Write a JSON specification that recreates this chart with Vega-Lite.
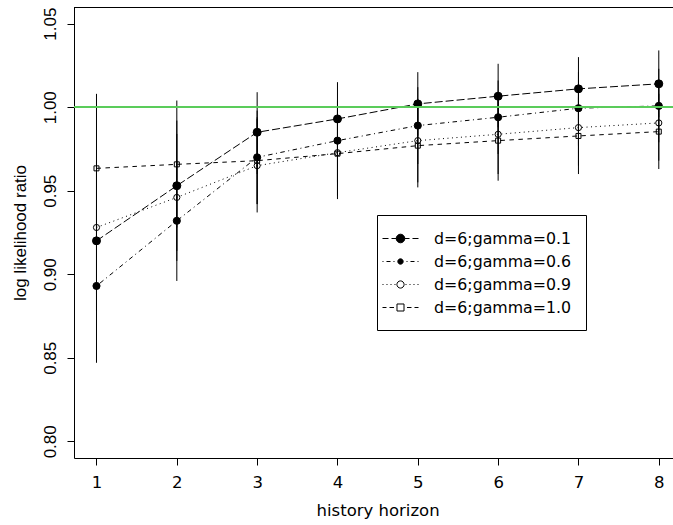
{
  "$schema": "https://vega.github.io/schema/vega-lite/v6.json",
  "autosize": "none",
  "padding": {"left": 74, "top": 7, "right": 0, "bottom": 67},
  "width": 599,
  "height": 451,
  "background": "white",
  "config": {
    "view": {"stroke": null},
    "font": "DejaVu Sans",
    "axis": {"grid": false, "domainColor": "black", "tickColor": "black", "labelColor": "black", "titleColor": "black", "tickSize": 7, "domainWidth": 1, "tickWidth": 1, "titleFontWeight": "normal"}
  },
  "data": {"values": [
    {"series": "d=6;gamma=0.1", "x": 1, "y": 0.920, "lo": 0.878, "hi": 0.964},
    {"series": "d=6;gamma=0.1", "x": 2, "y": 0.953, "lo": 0.914, "hi": 0.992},
    {"series": "d=6;gamma=0.1", "x": 3, "y": 0.985, "lo": 0.960, "hi": 1.009},
    {"series": "d=6;gamma=0.1", "x": 4, "y": 0.993, "lo": 0.970, "hi": 1.015},
    {"series": "d=6;gamma=0.1", "x": 5, "y": 1.002, "lo": 0.983, "hi": 1.021},
    {"series": "d=6;gamma=0.1", "x": 6, "y": 1.0066, "lo": 0.988, "hi": 1.026},
    {"series": "d=6;gamma=0.1", "x": 7, "y": 1.011, "lo": 0.992, "hi": 1.030},
    {"series": "d=6;gamma=0.1", "x": 8, "y": 1.014, "lo": 0.994, "hi": 1.034},
    {"series": "d=6;gamma=0.6", "x": 1, "y": 0.893, "lo": 0.847, "hi": 0.939},
    {"series": "d=6;gamma=0.6", "x": 2, "y": 0.932, "lo": 0.896, "hi": 0.968},
    {"series": "d=6;gamma=0.6", "x": 3, "y": 0.970, "lo": 0.942, "hi": 0.998},
    {"series": "d=6;gamma=0.6", "x": 4, "y": 0.980, "lo": 0.955, "hi": 1.004},
    {"series": "d=6;gamma=0.6", "x": 5, "y": 0.989, "lo": 0.966, "hi": 1.012},
    {"series": "d=6;gamma=0.6", "x": 6, "y": 0.994, "lo": 0.972, "hi": 1.016},
    {"series": "d=6;gamma=0.6", "x": 7, "y": 0.9994, "lo": 0.977, "hi": 1.021},
    {"series": "d=6;gamma=0.6", "x": 8, "y": 1.0008, "lo": 0.979, "hi": 1.023},
    {"series": "d=6;gamma=0.9", "x": 1, "y": 0.928, "lo": 0.888, "hi": 0.968},
    {"series": "d=6;gamma=0.9", "x": 2, "y": 0.946, "lo": 0.908, "hi": 0.984},
    {"series": "d=6;gamma=0.9", "x": 3, "y": 0.965, "lo": 0.937, "hi": 0.993},
    {"series": "d=6;gamma=0.9", "x": 4, "y": 0.9728, "lo": 0.947, "hi": 0.998},
    {"series": "d=6;gamma=0.9", "x": 5, "y": 0.980, "lo": 0.955, "hi": 1.005},
    {"series": "d=6;gamma=0.9", "x": 6, "y": 0.9838, "lo": 0.960, "hi": 1.008},
    {"series": "d=6;gamma=0.9", "x": 7, "y": 0.9878, "lo": 0.965, "hi": 1.011},
    {"series": "d=6;gamma=0.9", "x": 8, "y": 0.9906, "lo": 0.968, "hi": 1.014},
    {"series": "d=6;gamma=1.0", "x": 1, "y": 0.9634, "lo": 0.918, "hi": 1.008},
    {"series": "d=6;gamma=1.0", "x": 2, "y": 0.9658, "lo": 0.928, "hi": 1.004},
    {"series": "d=6;gamma=1.0", "x": 3, "y": 0.968, "lo": 0.942, "hi": 0.994},
    {"series": "d=6;gamma=1.0", "x": 4, "y": 0.9722, "lo": 0.945, "hi": 0.999},
    {"series": "d=6;gamma=1.0", "x": 5, "y": 0.977, "lo": 0.952, "hi": 1.002},
    {"series": "d=6;gamma=1.0", "x": 6, "y": 0.980, "lo": 0.956, "hi": 1.004},
    {"series": "d=6;gamma=1.0", "x": 7, "y": 0.9828, "lo": 0.960, "hi": 1.006},
    {"series": "d=6;gamma=1.0", "x": 8, "y": 0.9854, "lo": 0.963, "hi": 1.008}
  ]},
  "layer": [
    {
      "mark": {"type": "rule", "color": "black", "strokeWidth": 1},
      "encoding": {
        "x": {"field": "x", "type": "quantitative",
              "scale": {"domain": [0.72, 8.177], "nice": false, "zero": false},
              "axis": {"values": [1, 2, 3, 4, 5, 6, 7, 8], "format": "d", "labelFont": "DejaVu Sans", "labelFontSize": 16.5, "labelBaseline": "alphabetic", "labelPadding": 22, "labelFlush": false,
                       "title": "history horizon", "titleFont": "DejaVu Sans", "titleFontSize": 16.5, "titleX": 303.6, "titleY": 57.5, "titleAlign": "center", "titleBaseline": "alphabetic"}},
        "y": {"field": "lo", "type": "quantitative",
              "scale": {"domain": [0.79, 1.06], "nice": false, "zero": false},
              "axis": {"values": [0.8, 0.85, 0.9, 0.95, 1.0, 1.05], "format": ".2f", "labelAngle": -90, "labelAlign": "center", "labelBaseline": "alphabetic", "labelPadding": 12, "labelFont": "Liberation Sans", "labelFontSize": 17, "labelFlush": false,
                       "title": "log likelihood ratio", "titleFont": "Liberation Sans", "titleFontSize": 17, "titleAngle": -90, "titleX": -49, "titleY": 225.5, "titleAlign": "center", "titleBaseline": "alphabetic"}},
        "y2": {"field": "hi"}
      }
    },
    {
      "mark": {"type": "line", "color": "black", "strokeWidth": 1},
      "encoding": {
        "x": {"field": "x", "type": "quantitative", "scale": {"domain": [0.72, 8.177], "nice": false, "zero": false}},
        "y": {"field": "y", "type": "quantitative", "scale": {"domain": [0.79, 1.06], "nice": false, "zero": false}},
        "strokeDash": {"field": "series", "type": "nominal",
                       "scale": {"domain": ["d=6;gamma=0.1", "d=6;gamma=0.6", "d=6;gamma=0.9", "d=6;gamma=1.0"],
                                 "range": [[8, 3], [1, 3.5, 4.5, 3.5], [1, 3.5], [4.5, 4.5]]},
                       "legend": null}
      }
    },
    {
      "mark": {"type": "point", "stroke": "black", "strokeWidth": 1, "opacity": 1},
      "encoding": {
        "x": {"field": "x", "type": "quantitative", "scale": {"domain": [0.72, 8.177], "nice": false, "zero": false}},
        "y": {"field": "y", "type": "quantitative", "scale": {"domain": [0.79, 1.06], "nice": false, "zero": false}},
        "shape": {"field": "series", "type": "nominal",
                  "scale": {"domain": ["d=6;gamma=0.1", "d=6;gamma=0.6", "d=6;gamma=0.9", "d=6;gamma=1.0"],
                            "range": ["circle", "circle", "circle", "square"]},
                  "legend": null},
        "size": {"field": "series", "type": "nominal",
                 "scale": {"domain": ["d=6;gamma=0.1", "d=6;gamma=0.6", "d=6;gamma=0.9", "d=6;gamma=1.0"],
                           "range": [64, 25, 42, 42]},
                 "legend": null},
        "fill": {"field": "series", "type": "nominal",
                 "scale": {"domain": ["d=6;gamma=0.1", "d=6;gamma=0.6", "d=6;gamma=0.9", "d=6;gamma=1.0"],
                           "range": ["black", "black", "transparent", "transparent"]},
                 "legend": null}
      }
    },
    {
      "mark": {"type": "rule", "color": "#5CCB5C", "strokeWidth": 1},
      "encoding": {"y": {"datum": 1, "type": "quantitative", "scale": {"domain": [0.79, 1.06], "nice": false, "zero": false}, "title": "log likelihood ratio"}}
    },
    {
      "mark": {"type": "rule", "color": "black", "strokeWidth": 1},
      "encoding": {"y": {"datum": 1.0597, "type": "quantitative", "scale": {"domain": [0.79, 1.06], "nice": false, "zero": false}, "title": "log likelihood ratio"}}
    },
    {
      "data": {"values": []},
      "mark": {"type": "point", "stroke": "black", "strokeWidth": 1, "size": 324, "opacity": 1},
      "encoding": {
        "shape": {"field": "series", "type": "nominal",
                  "scale": {"domain": ["d=6;gamma=0.1", "d=6;gamma=0.6", "d=6;gamma=0.9", "d=6;gamma=1.0"],
                            "range": [
                              "M-2,0H-1.333M-1,0H-0.444M0.444,0H1M1.333,0H2M0.478,0A0.478,0.478,0,1,1,-0.478,0A0.478,0.478,0,1,1,0.478,0Z",
                              "M-2,0H-1.889M-1.556,0H-1.111M-0.778,0H-0.667M0.667,0H0.778M1.111,0H1.556M1.889,0H2M0.3,0A0.3,0.3,0,1,1,-0.3,0A0.3,0.3,0,1,1,0.3,0Z",
                              "M-2,0h0.111M-1.556,0h0.111M-1.111,0h0.111M-0.667,0h0.111M0.556,0h0.111M1,0h0.111M1.444,0h0.111M1.889,0h0.111M0.4,0A0.4,0.4,0,1,1,-0.4,0A0.4,0.4,0,1,1,0.4,0Z",
                              "M-2,0H-1.556M-1.222,0H-0.722M0.722,0H1.222M1.556,0H2M-0.389,-0.389H0.389V0.389H-0.389Z"
                            ]},
                  "legend": {"title": null, "orient": "none", "legendX": 303, "legendY": 208, "padding": 14, "strokeColor": "black", "fillColor": "white", "cornerRadius": 0,
                             "symbolSize": 324, "symbolStrokeWidth": 1, "symbolStrokeColor": "black", "symbolOpacity": 1,
                             "labelFont": "DejaVu Sans", "labelFontSize": 15.8, "labelColor": "black", "labelOffset": 24, "rowPadding": 5, "labelLimit": 300,
                             "encode": {"symbols": {"update": {"stroke": {"value": "black"}, "strokeWidth": {"value": 1}, "opacity": {"value": 1}}}}}},
        "fill": {"field": "series", "type": "nominal",
                 "scale": {"domain": ["d=6;gamma=0.1", "d=6;gamma=0.6", "d=6;gamma=0.9", "d=6;gamma=1.0"],
                           "range": ["black", "black", "white", "white"]},
                 "legend": {"title": null, "orient": "none", "legendX": 303, "legendY": 208, "padding": 14, "strokeColor": "black", "fillColor": "white", "cornerRadius": 0,
                            "symbolSize": 324, "symbolStrokeWidth": 1, "symbolStrokeColor": "black", "symbolOpacity": 1,
                            "labelFont": "DejaVu Sans", "labelFontSize": 15.8, "labelColor": "black", "labelOffset": 24, "rowPadding": 5, "labelLimit": 300,
                            "encode": {"symbols": {"update": {"stroke": {"value": "black"}, "strokeWidth": {"value": 1}, "opacity": {"value": 1}}}}}}
      }
    }
  ],
  "resolve": {"scale": {"shape": "independent", "fill": "independent", "size": "independent"}}
}
